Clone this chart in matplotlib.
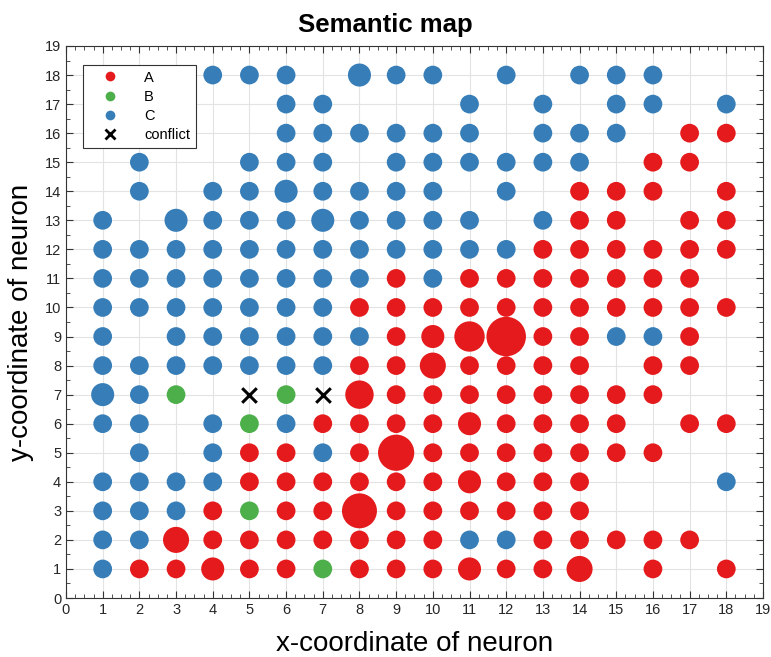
import matplotlib.pyplot as plt
from matplotlib.lines import Line2D
from matplotlib.ticker import MultipleLocator

plt.rcParams['font.family'] = ['Liberation Sans', 'DejaVu Sans']

# neuron positions per class, keyed by row (y) -> list of x
rows_a = {
    16: [17, 18],
    15: [16, 17],
    14: [14, 15, 16, 18],
    13: [14, 15, 17, 18],
    12: [13, 14, 15, 16, 17, 18],
    11: [9, 11, 12, 13, 14, 15, 16, 17],
    10: [8, 9, 10, 11, 12, 13, 14, 15, 16, 17, 18],
    9: [9, 10, 11, 12, 13, 14, 17],
    8: [8, 9, 10, 11, 12, 13, 14, 16, 17],
    7: [8, 9, 10, 11, 12, 13, 14, 15, 16],
    6: [7, 8, 9, 10, 11, 12, 13, 14, 15, 17, 18],
    5: [5, 6, 8, 9, 10, 11, 12, 13, 14, 15, 16],
    4: [5, 6, 7, 8, 9, 10, 11, 12, 13, 14],
    3: [4, 6, 7, 8, 9, 10, 11, 12, 13, 14],
    2: [3, 4, 5, 6, 7, 8, 9, 10, 13, 14, 15, 16, 17],
    1: [2, 3, 4, 5, 6, 8, 9, 10, 11, 12, 13, 14, 16, 18],
}
rows_b = {7: [3, 6], 6: [5], 3: [5], 1: [7]}
rows_c = {
    18: [4, 5, 6, 8, 9, 10, 12, 14, 15, 16],
    17: [6, 7, 11, 13, 15, 16, 18],
    16: [6, 7, 8, 9, 10, 11, 13, 14, 15],
    15: [2, 5, 6, 7, 9, 10, 11, 12, 13, 14],
    14: [2, 4, 5, 6, 7, 8, 9, 10, 12],
    13: [1, 3, 4, 5, 6, 7, 8, 9, 10, 11, 13],
    12: [1, 2, 3, 4, 5, 6, 7, 8, 9, 10, 11, 12],
    11: [1, 2, 3, 4, 5, 6, 7, 8, 10],
    10: [1, 2, 3, 4, 5, 6, 7],
    9: [1, 3, 4, 5, 6, 7, 8, 15, 16],
    8: [1, 2, 3, 4, 5, 6, 7],
    7: [1, 2],
    6: [1, 2, 4, 6],
    5: [2, 4, 7],
    4: [1, 2, 3, 4, 18],
    3: [1, 2, 3],
    2: [1, 2, 11, 12],
    1: [1],
}
conflict_x = [5, 7]
conflict_y = [7, 7]

# neurons hit by more than one sample
hits = {
    (8, 18): 2, (6, 14): 2, (3, 13): 2, (7, 13): 2, (1, 7): 2,
    (3, 2): 3, (4, 1): 2, (8, 7): 4, (10, 9): 2, (10, 8): 3,
    (11, 9): 5, (12, 9): 12, (9, 5): 9, (8, 3): 8,
    (11, 6): 2, (11, 4): 2, (11, 1): 2, (14, 1): 3,
}

colors = {'A': '#e41a1c', 'B': '#4daf4a', 'C': '#377eb8'}


def unpack(rows):
    xs, ys, ss = [], [], []
    for y, xlist in rows.items():
        for x in xlist:
            xs.append(x)
            ys.append(y)
            ss.append(182 * hits.get((x, y), 1) ** 0.6)
    return xs, ys, ss


fig = plt.figure(figsize=(7.71, 6.57), dpi=100)
ax = fig.add_axes([0.0856, 0.0898, 0.9040, 0.8402])

for name, rows in [('C', rows_c), ('A', rows_a), ('B', rows_b)]:
    xs, ys, ss = unpack(rows)
    ax.scatter(xs, ys, s=ss, c=colors[name], edgecolors='none', zorder=3)
ax.scatter(conflict_x, conflict_y, marker='x', s=110, c='black',
           linewidths=2.2, zorder=4)

ax.set_xlim(0, 19)
ax.set_ylim(0, 19)
ax.xaxis.set_major_locator(MultipleLocator(1))
ax.yaxis.set_major_locator(MultipleLocator(1))
ax.xaxis.set_minor_locator(MultipleLocator(0.25))
ax.yaxis.set_minor_locator(MultipleLocator(0.5))
ax.tick_params(which='both', direction='in', top=True, right=True,
               labelsize=10.5, color='#333333', labelcolor='#262626')
ax.tick_params(which='major', length=5, width=0.8)
ax.tick_params(which='minor', length=3, width=0.6)
ax.grid(True, which='major', color='#e3e3e3', linewidth=0.8, zorder=0)
ax.set_axisbelow(True)
for sp in ax.spines.values():
    sp.set_color('#333333')
    sp.set_linewidth(0.8)

ax.set_xlabel('x-coordinate of neuron', fontsize=20, labelpad=10)
ax.set_ylabel('y-coordinate of neuron', fontsize=20, labelpad=8)
fig.text(0.5, 0.962, 'Semantic map', fontsize=18.5, fontweight='bold',
         ha='center', va='center')

handles = [
    Line2D([], [], ls='none', marker='o', ms=7, mfc=colors['A'], mec='none'),
    Line2D([], [], ls='none', marker='o', ms=7, mfc=colors['B'], mec='none'),
    Line2D([], [], ls='none', marker='o', ms=7, mfc=colors['C'], mec='none'),
    Line2D([], [], ls='none', marker='x', ms=7, mec='black', mew=2),
]
leg = ax.legend(handles, ['A', 'B', 'C', 'conflict'], loc='upper left',
                bbox_to_anchor=(0.024, 0.966), borderaxespad=0,
                fontsize=10.5, fancybox=False, framealpha=1,
                handlelength=3.0, handletextpad=0.8, labelspacing=0.35,
                borderpad=0.4)
leg.get_frame().set_edgecolor('#333333')
leg.get_frame().set_linewidth(0.8)

fig.savefig('out.png', dpi=100)
